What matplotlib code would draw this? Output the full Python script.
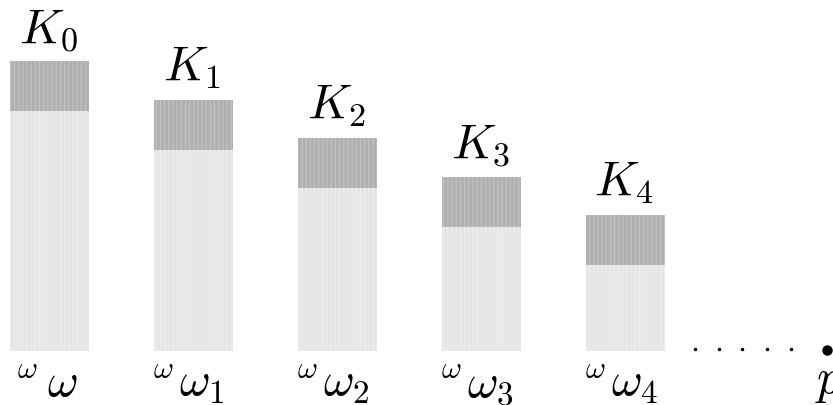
import matplotlib
matplotlib.use("Agg")
import matplotlib.pyplot as plt

# data
levels = [0, 1, 2, 3, 4]
top_labels = [r"$K_0$", r"$K_1$", r"$K_2$", r"$K_3$", r"$K_4$"]
sup_labels = [r"$\omega$"] * 5
main_labels = [r"$\omega$", r"$\omega_1$", r"$\omega_2$", r"$\omega_3$", r"$\omega_4$"]
total_heights = [290, 251.5, 213, 174.5, 136.5]
dark_heights = [50, 50, 50, 50, 50]
dots_x = [4.48, 4.65, 4.81, 4.98, 5.15]
point_x = 5.40
point_label = r"$p$"

plt.rcParams['mathtext.fontset'] = 'cm'
plt.rcParams['hatch.linewidth'] = 0.7

fig = plt.figure(figsize=(8.33, 4.05), dpi=100)
ax = fig.add_axes([0, 0, 1, 1])
ax.set_xlim(-0.34375, 5.441)
ax.set_ylim(-54, 351)
ax.axis('off')

width = 0.55
light = [t - d for t, d in zip(total_heights, dark_heights)]
ax.bar(levels, light, width=width, color='#e6e6e6', edgecolor='#eeeeee',
       linewidth=0, hatch='||||')
ax.bar(levels, dark_heights, width=width, bottom=light, color='#b0b0b0',
       edgecolor='#c6c6c6', linewidth=0, hatch='||||')

for x, t, lab in zip(levels, total_heights, top_labels):
    ax.text(x - 0.01, t + 19, lab, ha='center', va='baseline', fontsize=35)

for i, (x, s, m) in enumerate(zip(levels, sup_labels, main_labels)):
    if i == 0:
        sup_off, main_off = -0.225, -0.017
    else:
        sup_off, main_off = -0.280, -0.103
    ax.text(x + sup_off, -27, s, ha='left', va='baseline', fontsize=22)
    ax.text(x + main_off, -45, m, ha='left', va='baseline', fontsize=34)

ax.plot(dots_x, [2] * len(dots_x), 'o', color='black', markersize=1.5)
ax.plot([point_x], [1], 'o', color='black', markersize=6.5)
ax.text(point_x + 0.01, -42, point_label, ha='center', va='baseline', fontsize=35)

fig.savefig("out.png", dpi=100)
